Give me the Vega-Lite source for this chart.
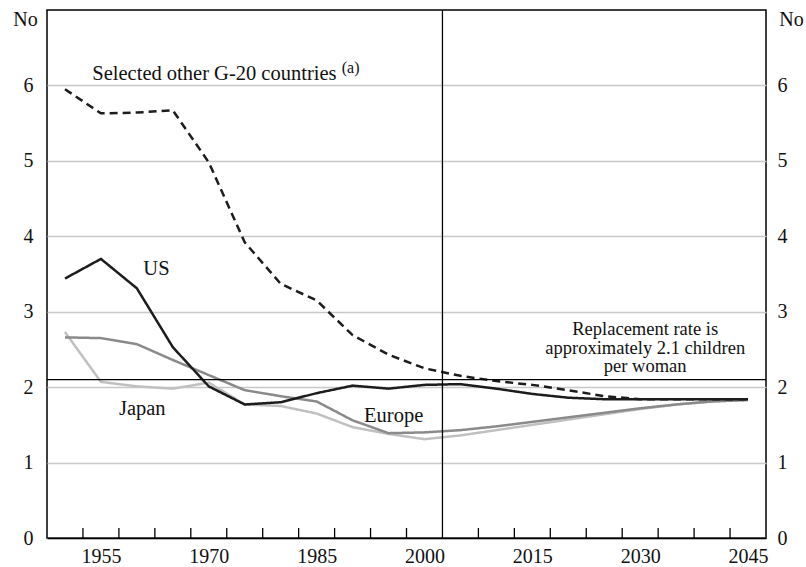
{
  "$schema": "https://vega.github.io/schema/vega-lite/v6.json",
  "width": 719,
  "height": 528,
  "autosize": {"type": "none"},
  "padding": {"left": 47, "top": 10, "right": 40, "bottom": 29},
  "background": "white",
  "config": {
    "view": {"stroke": "#000000", "strokeWidth": 1.5},
    "font": "Liberation Serif, Times New Roman, Times, serif",
    "axis": {"labelFont": "Liberation Serif, Times New Roman, Times, serif", "titleFont": "Liberation Serif, Times New Roman, Times, serif", "labelColor": "#111111", "titleColor": "#111111", "labelFontSize": 20, "titleFontSize": 20, "titleFontWeight": "normal"},
    "axisX": {"labelOverlap": false, "labelSeparation": 0}
  },
  "datasets": {
    "fert": [
      {"series": "Japan", "year": 1952.5, "value": 2.73},
      {"series": "Japan", "year": 1957.5, "value": 2.07},
      {"series": "Japan", "year": 1962.5, "value": 2.01},
      {"series": "Japan", "year": 1967.5, "value": 1.98},
      {"series": "Japan", "year": 1972.5, "value": 2.06},
      {"series": "Japan", "year": 1977.5, "value": 1.77},
      {"series": "Japan", "year": 1982.5, "value": 1.75},
      {"series": "Japan", "year": 1987.5, "value": 1.65},
      {"series": "Japan", "year": 1992.5, "value": 1.47},
      {"series": "Japan", "year": 1997.5, "value": 1.38},
      {"series": "Japan", "year": 2002.5, "value": 1.31},
      {"series": "Japan", "year": 2007.5, "value": 1.36},
      {"series": "Japan", "year": 2012.5, "value": 1.43},
      {"series": "Japan", "year": 2017.5, "value": 1.50},
      {"series": "Japan", "year": 2022.5, "value": 1.57},
      {"series": "Japan", "year": 2027.5, "value": 1.64},
      {"series": "Japan", "year": 2032.5, "value": 1.71},
      {"series": "Japan", "year": 2037.5, "value": 1.77},
      {"series": "Japan", "year": 2042.5, "value": 1.81},
      {"series": "Japan", "year": 2047.5, "value": 1.83},
      {"series": "Europe", "year": 1952.5, "value": 2.66},
      {"series": "Europe", "year": 1957.5, "value": 2.65},
      {"series": "Europe", "year": 1962.5, "value": 2.57},
      {"series": "Europe", "year": 1967.5, "value": 2.36},
      {"series": "Europe", "year": 1972.5, "value": 2.16},
      {"series": "Europe", "year": 1977.5, "value": 1.96},
      {"series": "Europe", "year": 1982.5, "value": 1.88},
      {"series": "Europe", "year": 1987.5, "value": 1.81},
      {"series": "Europe", "year": 1992.5, "value": 1.56},
      {"series": "Europe", "year": 1997.5, "value": 1.39},
      {"series": "Europe", "year": 2002.5, "value": 1.40},
      {"series": "Europe", "year": 2007.5, "value": 1.43},
      {"series": "Europe", "year": 2012.5, "value": 1.48},
      {"series": "Europe", "year": 2017.5, "value": 1.54},
      {"series": "Europe", "year": 2022.5, "value": 1.60},
      {"series": "Europe", "year": 2027.5, "value": 1.66},
      {"series": "Europe", "year": 2032.5, "value": 1.72},
      {"series": "Europe", "year": 2037.5, "value": 1.77},
      {"series": "Europe", "year": 2042.5, "value": 1.81},
      {"series": "Europe", "year": 2047.5, "value": 1.83},
      {"series": "US", "year": 1952.5, "value": 3.44},
      {"series": "US", "year": 1957.5, "value": 3.70},
      {"series": "US", "year": 1962.5, "value": 3.31},
      {"series": "US", "year": 1967.5, "value": 2.53},
      {"series": "US", "year": 1972.5, "value": 2.01},
      {"series": "US", "year": 1977.5, "value": 1.77},
      {"series": "US", "year": 1982.5, "value": 1.80},
      {"series": "US", "year": 1987.5, "value": 1.92},
      {"series": "US", "year": 1992.5, "value": 2.02},
      {"series": "US", "year": 1997.5, "value": 1.98},
      {"series": "US", "year": 2002.5, "value": 2.03},
      {"series": "US", "year": 2007.5, "value": 2.04},
      {"series": "US", "year": 2012.5, "value": 1.98},
      {"series": "US", "year": 2017.5, "value": 1.91},
      {"series": "US", "year": 2022.5, "value": 1.86},
      {"series": "US", "year": 2027.5, "value": 1.84},
      {"series": "US", "year": 2032.5, "value": 1.84},
      {"series": "US", "year": 2037.5, "value": 1.84},
      {"series": "US", "year": 2042.5, "value": 1.84},
      {"series": "US", "year": 2047.5, "value": 1.84},
      {"series": "Other", "year": 1952.5, "value": 5.95},
      {"series": "Other", "year": 1957.5, "value": 5.63},
      {"series": "Other", "year": 1962.5, "value": 5.64},
      {"series": "Other", "year": 1967.5, "value": 5.67},
      {"series": "Other", "year": 1972.5, "value": 4.98},
      {"series": "Other", "year": 1977.5, "value": 3.92},
      {"series": "Other", "year": 1982.5, "value": 3.37},
      {"series": "Other", "year": 1987.5, "value": 3.15},
      {"series": "Other", "year": 1992.5, "value": 2.69},
      {"series": "Other", "year": 1997.5, "value": 2.43},
      {"series": "Other", "year": 2002.5, "value": 2.25},
      {"series": "Other", "year": 2007.5, "value": 2.15},
      {"series": "Other", "year": 2012.5, "value": 2.08},
      {"series": "Other", "year": 2017.5, "value": 2.03},
      {"series": "Other", "year": 2022.5, "value": 1.96},
      {"series": "Other", "year": 2027.5, "value": 1.88},
      {"series": "Other", "year": 2032.5, "value": 1.84},
      {"series": "Other", "year": 2037.5, "value": 1.84},
      {"series": "Other", "year": 2042.5, "value": 1.84},
      {"series": "Other", "year": 2047.5, "value": 1.84}
    ],
    "ticks": [
      {"tick": 1955}, {"tick": 1960}, {"tick": 1965}, {"tick": 1970}, {"tick": 1975},
      {"tick": 1980}, {"tick": 1985}, {"tick": 1990}, {"tick": 1995}, {"tick": 2000},
      {"tick": 2010}, {"tick": 2015}, {"tick": 2020}, {"tick": 2025},
      {"tick": 2030}, {"tick": 2035}, {"tick": 2040}, {"tick": 2045}
    ],
    "labels": [
      {"label": "Selected other G-20 countries", "year": 1956.3, "value": 6.07},
      {"label": "US", "year": 1963.4, "value": 3.49},
      {"label": "Japan", "year": 1960.0, "value": 1.63},
      {"label": "Europe", "year": 1994.1, "value": 1.54}
    ],
    "sup": [
      {"label": "(a)", "year": 1991.0, "value": 6.17}
    ],
    "note": [
      {"label": "Replacement rate is\napproximately 2.1 children\nper woman", "year": 2033.2, "value": 2.69}
    ]
  },
  "resolve": {"axis": {"x": "independent", "y": "independent"}},
  "layer": [
    {
      "data": {"name": "fert"},
      "mark": {"type": "line", "strokeWidth": 2.5, "strokeCap": "butt", "strokeJoin": "miter"},
      "encoding": {
        "x": {
          "field": "year", "type": "quantitative",
          "scale": {"domain": [1950, 2050], "nice": false, "zero": false},
          "axis": {"title": null, "values": [1955, 1960, 1965, 1970, 1975, 1980, 1985, 1990, 1995, 2000, 2005, 2010, 2015, 2020, 2025, 2030, 2035, 2040, 2045], "labelExpr": "indexof([1955, 1970, 1985, 2000, 2015, 2030, 2045], datum.value) >= 0 ? datum.label : ''", "format": "d", "labelOffset": 18, "labelPadding": 8, "labelFlush": false, "labelOverlap": false, "labelSeparation": 0, "labelBound": false, "ticks": false, "domainColor": "#000000", "domainWidth": 1.5, "grid": false}
        },
        "y": {
          "field": "value", "type": "quantitative",
          "scale": {"domain": [0, 7], "nice": false},
          "axis": {"orient": "left", "values": [0, 1, 2, 3, 4, 5, 6], "ticks": false, "domain": false, "labelPadding": 14, "grid": true, "gridColor": "#c8c8c8", "gridWidth": 1.5, "title": "No", "titleAngle": 0, "titleAlign": "center", "titleBaseline": "alphabetic", "titleX": -22, "titleY": 15}
        },
        "color": {"field": "series", "type": "nominal", "legend": null,
          "scale": {"domain": ["Japan", "Europe", "US", "Other"], "range": ["#c0c0c0", "#8a8a8a", "#1c1c1c", "#1c1c1c"]}},
        "strokeDash": {"field": "series", "type": "nominal", "legend": null,
          "scale": {"domain": ["Japan", "Europe", "US", "Other"], "range": [[1, 0], [1, 0], [1, 0], [8, 5]]}}
      }
    },
    {
      "data": {"values": [{"rate": 2.1}]},
      "mark": {"type": "rule", "color": "#000000", "strokeWidth": 1.3},
      "encoding": {
        "y": {
          "field": "rate", "type": "quantitative",
          "scale": {"domain": [0, 7], "nice": false},
          "axis": {"orient": "right", "values": [0, 1, 2, 3, 4, 5, 6], "ticks": false, "domain": false, "grid": false, "labelPadding": 11, "title": "No", "titleAngle": 0, "titleAlign": "center", "titleBaseline": "alphabetic", "titleX": 25, "titleY": 15}
        }
      }
    },
    {
      "data": {"values": [{"yr": 2005}]},
      "mark": {"type": "rule", "color": "#000000", "strokeWidth": 1.3},
      "encoding": {
        "x": {"field": "yr", "type": "quantitative", "axis": null}
      }
    },
    {
      "data": {"name": "ticks"},
      "mark": {"type": "rule", "color": "#000000", "strokeWidth": 1.3},
      "encoding": {
        "x": {"field": "tick", "type": "quantitative", "axis": null},
        "y": {"datum": 0, "type": "quantitative", "axis": null},
        "y2": {"datum": 0.133}
      }
    },
    {
      "data": {"name": "labels"},
      "mark": {"type": "text", "font": "Liberation Serif, Times New Roman, Times, serif", "fontSize": 20.5, "align": "left", "baseline": "alphabetic", "color": "#111111"},
      "encoding": {
        "x": {"field": "year", "type": "quantitative", "axis": null},
        "y": {"field": "value", "type": "quantitative", "axis": null},
        "text": {"field": "label"}
      }
    },
    {
      "data": {"name": "sup"},
      "mark": {"type": "text", "font": "Liberation Serif, Times New Roman, Times, serif", "fontSize": 16, "align": "left", "baseline": "alphabetic", "color": "#111111"},
      "encoding": {
        "x": {"field": "year", "type": "quantitative", "axis": null},
        "y": {"field": "value", "type": "quantitative", "axis": null},
        "text": {"field": "label"}
      }
    },
    {
      "data": {"name": "note"},
      "mark": {"type": "text", "font": "Liberation Serif, Times New Roman, Times, serif", "fontSize": 18.5, "align": "center", "baseline": "alphabetic", "lineBreak": "\n", "lineHeight": 18.5, "color": "#111111"},
      "encoding": {
        "x": {"field": "year", "type": "quantitative", "axis": null},
        "y": {"field": "value", "type": "quantitative", "axis": null},
        "text": {"field": "label"}
      }
    }
  ]
}
